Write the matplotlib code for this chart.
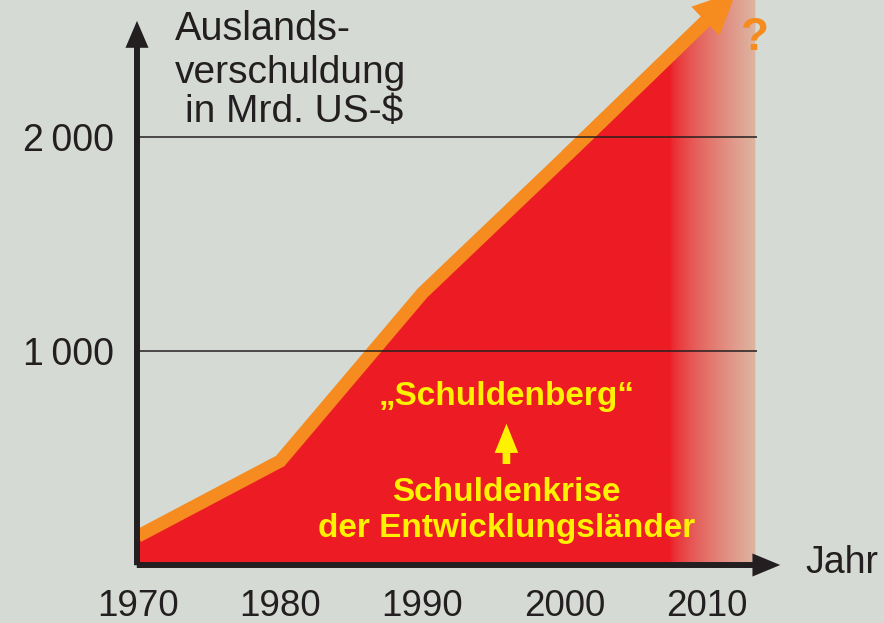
import numpy as np
import matplotlib
matplotlib.use("Agg")
import matplotlib.pyplot as plt
from matplotlib.patches import Polygon, FancyArrowPatch
from matplotlib.colors import to_rgb

plt.rcParams['font.family'] = ['Liberation Sans', 'DejaVu Sans']

# Auslandsverschuldung der Entwicklungslaender (Mrd. US-$)
jahre = [1970, 1980, 1990, 2000, 2010]
schulden = [135, 486, 1271, 1905, 2547]

# ausblendende Fortsetzung und Pfeilspitze
prognose_jahr = 2013.4
prognose_wert = 2765
pfeil_jahr = 2012.2
pfeil_wert = 2690

x_ticks = [1970, 1980, 1990, 2000, 2010]
y_ticks = [1000, 2000]
y_labels = ["1\u2009000", "2\u2009000"]

hg = "#D5DAD4"
rot = "#ED1C24"
blass = "#DDB6A2"
orange = "#F68B1F"
gelb = "#FFF200"
schwarz = "#231F20"

fig = plt.figure(figsize=(8.84, 6.23), dpi=100, facecolor=hg)
ax = fig.add_axes([137 / 884, 58 / 623, 747 / 884, 565 / 623])
ax.set_facecolor(hg)
for s in ax.spines.values():
    s.set_visible(False)

# Flaeche mit Farbverlauf am rechten Rand
xs = jahre + [prognose_jahr]
ys = schulden + [prognose_wert]
verts = [(xs[0], 0)] + list(zip(xs, ys)) + [(xs[-1], 0)]
flaeche = Polygon(verts, closed=True, fc="none", ec="none")
ax.add_patch(flaeche)

n = 600
gx = np.linspace(xs[0], prognose_jahr, n)
t = np.clip((gx - 2007.4) / (prognose_jahr - 2007.4), 0, 1) ** 0.7
img = np.ones((1, n, 4))
img[0, :, :3] = np.outer(1 - t, to_rgb(rot)) + np.outer(t, to_rgb(blass))
im = ax.imshow(img, extent=[xs[0], prognose_jahr, 0, 3000], aspect="auto",
               interpolation="bilinear", zorder=1)
im.set_clip_path(flaeche)

# orange Linie mit Pfeil
ax.plot(jahre, schulden, color=orange, lw=9.4, solid_joinstyle="miter",
        solid_capstyle="butt", zorder=3)
pfeil = FancyArrowPatch((jahre[-2], schulden[-2]), (pfeil_jahr, pfeil_wert),
                        arrowstyle="simple,head_length=31,head_width=29,tail_width=9.4",
                        mutation_scale=1, color=orange, lw=0, zorder=3, clip_on=False)
ax.add_patch(pfeil)

ax.hlines(y_ticks, 1969.93, 2013.5, colors=schwarz, lw=1.1, zorder=4)

ax.set_xlim(1969.93, 2022.44)
ax.set_ylim(0, 2640)

ax.set_xticks(x_ticks)
ax.set_xticklabels([str(j) for j in x_ticks], fontsize=26.5, color=schwarz)
ax.set_yticks(y_ticks)
ax.set_yticklabels(y_labels, fontsize=27, color=schwarz)
ax.tick_params(axis="x", length=0, pad=17)
ax.tick_params(axis="y", length=0, pad=16.5)

# Achsenpfeile
xa = FancyArrowPatch((-3 / 747, 0), (0.8648, 0), transform=ax.transAxes,
                     arrowstyle="simple,head_length=20,head_width=16.6,tail_width=4.3",
                     mutation_scale=1, color=schwarz, lw=0, clip_on=False, zorder=5)
ya = FancyArrowPatch((0, -3 / 565), (0, 0.968), transform=ax.transAxes,
                     arrowstyle="simple,head_length=19.4,head_width=16.6,tail_width=4.3",
                     mutation_scale=1, color=schwarz, lw=0, clip_on=False, zorder=5)
ax.add_patch(xa)
ax.add_patch(ya)

# Beschriftungen
ax.text(1972.6, 2455, "Auslands-", fontsize=28.5, color=schwarz, va="baseline")
ax.text(1972.6, 2252, "verschuldung", fontsize=28, color=schwarz, va="baseline")
ax.text(1973.3, 2068, "in Mrd. US-$", fontsize=28, color=schwarz, va="baseline")
ax.text(2016.9, -37, "Jahr", fontsize=27, color=schwarz, va="baseline", clip_on=False)
ax.text(2013.37, 2407, "?", fontsize=33, fontweight="bold", color=orange,
        ha="center", va="baseline")

ax.text(1995.9, 748, "\u201eSchuldenberg\u201c", fontsize=24, fontweight="bold",
        color=gelb, ha="center", va="baseline", zorder=6)
ax.text(1995.9, 301, "Schuldenkrise", fontsize=24, fontweight="bold",
        color=gelb, ha="center", va="baseline", zorder=6)
ax.text(1995.9, 131, "der Entwicklungsl\u00e4nder", fontsize=24, fontweight="bold",
        color=gelb, ha="center", va="baseline", zorder=6)
ax.add_patch(FancyArrowPatch((1995.9, 459), (1995.9, 673),
                             arrowstyle="simple,head_length=21,head_width=17,tail_width=5.5",
                             mutation_scale=1, color=gelb, lw=0, zorder=6))

fig.savefig("out.png", dpi=100, facecolor=hg)
